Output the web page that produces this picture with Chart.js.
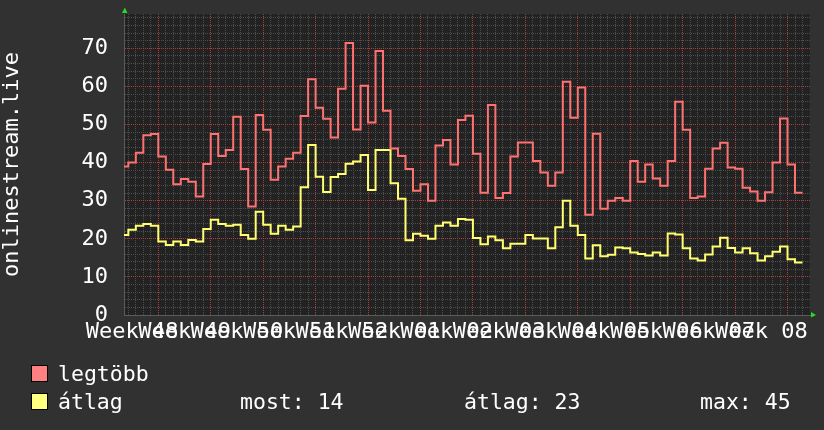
<!DOCTYPE html>
<html>
<head>
<meta charset="utf-8">
<script src="https://cdn.jsdelivr.net/npm/chart.js@4"></script>
<style>
  html, body { margin: 0; padding: 0; background: #313131; }
  #wrap { position: relative; width: 824px; height: 430px; overflow: hidden; background: #313131; }
  #c { position: absolute; left: 0; top: 0; }
  .lg { position: absolute; font-family: 'DejaVu Sans Mono', monospace; font-size: 21.5px; line-height: 22px; color: #ffffff; white-space: pre; }
  .sw { position: absolute; width: 15px; height: 15px; border: 1px solid #000; }
</style>
</head>
<body>
<div id="wrap">
  <canvas id="c" width="824" height="430"></canvas>
</div>
<script>
// ---- data ----
const weeks = ['48','49','50','51','52','01','02','03','04','05','06','07','08'];
const firstDay = 2;           // day number of first sample (day 0 = start of week 48)
const legtobb = [
  39, 40, 42.6, 47.2, 47.5, 41.6, 38.1, 34.3, 35.7, 35,
  31.1, 39.6, 47.5, 41.7, 43.3, 52, 38.3, 28.5, 52.5, 48.6,
  35.5, 39, 41, 42.6, 52.2, 61.9, 54.4, 51.5, 46.6, 59.4,
  71.4, 48.7, 60.2, 50.5, 69.3, 53.6, 43.7, 41.7, 38.3, 32.6,
  34.3, 30, 44.5, 45.9, 39.5, 51.2, 52.3, 42.3, 32.1, 55.1,
  30.7, 32, 41.6, 45.3, 45.3, 40.4, 37.4, 33.9, 37.4, 61.2,
  51.8, 59.7, 26.3, 47.6, 27.9, 30, 30.7, 30, 40.4, 35,
  39.5, 35.8, 33.9, 40.4, 56, 48.6, 30.7, 31.1, 38.4, 43.7,
  45.2, 38.7, 38.4, 33.4, 32.4, 30, 32.2, 40, 51.6, 39.5,
  32.1
];
const atlag = [
  21, 22.4, 23.4, 23.9, 23.4, 19.3, 18.4, 19.3, 18.4, 19.7,
  19.3, 22.6, 25, 23.9, 23.4, 23.7, 21, 20, 27.1, 23.7,
  21.3, 23.4, 22.4, 23.2, 33.5, 44.6, 36.3, 32.3, 36.2, 37,
  39.7, 40.3, 42, 32.8, 43.3, 43.3, 34.6, 30.5, 19.6, 21.3,
  20.8, 20, 23.4, 24.3, 23.4, 25.2, 25, 20.2, 18.6, 20.6,
  19.6, 17.5, 18.7, 18.7, 21, 20.1, 20.1, 17.5, 23, 30,
  23.4, 21, 14.8, 18.3, 15.4, 15.8, 17.7, 17.5, 16.4, 16,
  15.6, 16.4, 15.6, 21.4, 21.1, 17.5, 14.8, 14.3, 15.9, 18,
  20.3, 17.6, 16.4, 17.5, 16.2, 14.3, 15.4, 16.6, 18, 14.6,
  13.8
];
const seriesNames = ['legtöbb', 'átlag'];
const statNames = ['most', 'átlag', 'max'];
const statValues = [14, 23, 45];
const yAxisTitle = 'onlinestream.live';
const xMin = 2.42, xMax = 94.0, yMax = 79;

// ---- styles ----
const FONT = 'DejaVu Sans Mono';
const RED = '#ff7272', YEL = '#ffff70';
const SW_RED = '#ff8080', SW_YEL = '#ffff80';
const MINOR = '#4e4e4e', MAJOR = '#a84040';

function toPoints(vals) {
  const pts = vals.map((v, i) => ({ x: firstDay + i, y: v }));
  pts.push({ x: firstDay + vals.length, y: vals[vals.length - 1] });
  return pts;
}

const bgPlugin = {
  id: 'bg',
  beforeDraw(chart) {
    const { ctx, chartArea: a } = chart;
    ctx.save();
    ctx.fillStyle = '#313131';
    ctx.fillRect(0, 0, chart.width, chart.height);
    ctx.fillStyle = '#222222';
    ctx.fillRect(a.left, a.top, a.right - a.left, a.bottom - a.top);
    ctx.restore();
  },
  afterDraw(chart) {
    const { ctx, chartArea: a } = chart;
    ctx.save();
    ctx.fillStyle = '#22dd22';
    ctx.beginPath();
    ctx.moveTo(a.left - 2, a.top - 1);
    ctx.lineTo(a.left + 3.5, a.top - 1);
    ctx.lineTo(a.left + 0.8, a.top - 6.5);
    ctx.closePath(); ctx.fill();
    ctx.beginPath();
    ctx.moveTo(a.right + 1, a.bottom - 3);
    ctx.lineTo(a.right + 1, a.bottom + 2.5);
    ctx.lineTo(a.right + 6, a.bottom);
    ctx.closePath(); ctx.fill();
    ctx.restore();
  }
};

new Chart(document.getElementById('c'), {
  type: 'line',
  data: {
    datasets: [
      { label: seriesNames[0], data: toPoints(legtobb), borderColor: RED, borderWidth: 2, stepped: 'before', pointRadius: 0, fill: false },
      { label: seriesNames[1], data: toPoints(atlag), borderColor: YEL, borderWidth: 2, stepped: 'before', pointRadius: 0, fill: false }
    ]
  },
  options: {
    responsive: false,
    animation: false,
    devicePixelRatio: 1,
    events: [],
    layout: { padding: { top: 14, right: 14, bottom: 0, left: 0 } },
    plugins: { legend: { display: false }, tooltip: { enabled: false } },
    scales: {
      x: {
        type: 'linear', min: xMin, max: xMax,
        afterBuildTicks(s) {
          const t = [];
          for (let d = Math.ceil(xMin); d < xMax; d++) t.push(d);
          weeks.forEach((w, k) => t.push(3.5 + 7 * k));
          t.sort((a, b) => a - b);
          s.ticks = t.map(v => ({ value: v }));
        },
        afterFit(s) { s.height = 115; s.paddingLeft = 0; s.paddingRight = 0; s.paddingTop = 0; s.paddingBottom = 0; },
        ticks: {
          autoSkip: false, maxRotation: 0, minRotation: 0, padding: 4, color: '#ffffff',
          font: { family: FONT, size: 22 },
          callback(v) { const k = (v - 3.5) / 7; return Number.isInteger(k) ? 'Week ' + weeks[k] : ''; }
        },
        grid: {
          drawTicks: false,
          color(ctx) { const v = ctx.tick && ctx.tick.value; if (!Number.isInteger(v)) return 'rgba(0,0,0,0)'; return v % 7 === 0 ? MAJOR : MINOR; },
          lineWidth: 1
        },
        border: { display: true, color: '#5a5a5a', dash: [1, 1] }
      },
      y: {
        type: 'linear', min: 0, max: yMax,
        afterBuildTicks(s) {
          const t = [];
          for (let v = 0; v < yMax; v += 2) t.push({ value: v });
          s.ticks = t;
        },
        afterFit(s) { s.width = 124; s.paddingLeft = 0; s.paddingRight = 0; s.paddingTop = 0; s.paddingBottom = 0; },
        ticks: {
          autoSkip: false, padding: 16, color: '#ffffff',
          font: { family: FONT, size: 22 },
          callback(v) { return v % 10 === 0 ? String(v) : ''; }
        },
        grid: {
          drawTicks: false,
          color(ctx) { const v = ctx.tick && ctx.tick.value; return v % 10 === 0 ? MAJOR : MINOR; },
          lineWidth: 1
        },
        border: { display: true, color: '#5a5a5a', dash: [1, 1] },
        title: {
          display: true, text: yAxisTitle, color: '#ffffff',
          font: { family: FONT, size: 22, lineHeight: 1 },
          padding: { top: 1, bottom: 0 }
        }
      }
    }
  },
  plugins: [bgPlugin]
});

// ---- legend (HTML text) ----
const wrap = document.getElementById('wrap');
function addText(txt, left, top) {
  const d = document.createElement('div');
  d.className = 'lg'; d.textContent = txt;
  d.style.left = left + 'px'; d.style.top = top + 'px';
  wrap.appendChild(d);
}
function addSwatch(color, left, top) {
  const d = document.createElement('div');
  d.className = 'sw'; d.style.background = color;
  d.style.left = left + 'px'; d.style.top = top + 'px';
  wrap.appendChild(d);
}
addSwatch(SW_RED, 31, 365);
addText(seriesNames[0], 58, 363);
addSwatch(SW_YEL, 31, 393);
addText(seriesNames[1], 58, 391);
const statLeft = [240, 464, 700];
statNames.forEach((n, i) => addText(n + ': ' + statValues[i], statLeft[i], 391));
</script>
</body>
</html>
